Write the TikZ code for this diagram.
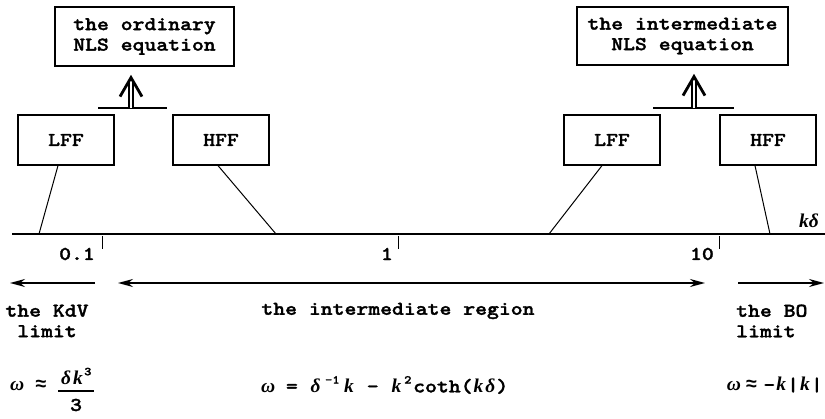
\documentclass[tikz,border=0pt]{standalone}
\usepackage{fontspec}
\newfontfamily\cour{lmmonolt10-bold.otf}[FakeStretch=1.16, FakeBold=1.6]
\newfontfamily\bifont{Liberation Serif}
\newfontfamily\symfont{Liberation Mono}
\usetikzlibrary{arrows.meta}
\newcommand\tfont{\fontsize{19.5}{20.5}\selectfont\cour}
\newcommand\cell[1]{\makebox[0.61em]{#1}}
\newcommand\vk{\cell{\bifont\bfseries\itshape k}}
\newcommand\vd{\cell{\bifont\bfseries\itshape δ}}
\newcommand\vw{\cell{\bifont\bfseries\itshape ω}}
\newcommand\apx{\cell{\symfont\bfseries ≈}}
\newcommand\sps[2]{\makebox[#1]{\raisebox{0.45em}{\fontsize{12}{12}\selectfont #2}}}
\begin{document}
\begin{tikzpicture}[x=1pt,y=-1pt,
  box/.style={draw, line width=1.2pt, inner sep=0pt, align=center, font=\tfont},
  txt/.style={inner sep=0pt, font=\tfont},
  conn/.style={line width=1pt},
  axisline/.style={line width=1.3pt},
  arr/.style={line width=1.5pt},
  barline/.style={line width=1.5pt},
  dbl/.style={line width=1.3pt, double distance=2.6pt},
  head/.style={line width=2.8pt, line join=miter}]
\useasboundingbox (0,0) rectangle (825,419);

% top boxes
\node[box, minimum width=179pt, minimum height=59pt] (nls1) at (144.5,36.5) {the ordinary\\NLS equation};
\node[box, minimum width=211pt, minimum height=58pt] (nls2) at (682.5,36) {the intermediate\\NLS equation};

% LFF / HFF boxes
\node[box, minimum width=96pt, minimum height=50pt] (lff1) at (66,140) {LFF};
\node[box, minimum width=96pt, minimum height=50pt] (hff1) at (221,140) {HFF};
\node[box, minimum width=96pt, minimum height=50pt] (lff2) at (612,140) {LFF};
\node[box, minimum width=96pt, minimum height=50pt] (hff2) at (768,140) {HFF};

% double arrows
\coordinate (b1) at (131,108);
\coordinate (b2) at (694,108);
\draw[barline] ([xshift=-33pt]b1) -- ([xshift=36pt]b1);
\draw[barline] ([xshift=-41pt]b2) -- ([xshift=40pt]b2);
\draw[dbl] (b1) -- ([yshift=-14pt]b1 |- nls1.south);
\draw[dbl] (b2) -- ([yshift=-14pt]b2 |- nls2.south);
\draw[head] ([xshift=-11pt,yshift=-30pt]b1 |- nls1.south) -- ([yshift=-11pt]b1 |- nls1.south) -- ([xshift=11pt,yshift=-30pt]b1 |- nls1.south);
\draw[head] ([xshift=-11pt,yshift=-30pt]b2 |- nls2.south) -- ([yshift=-11pt]b2 |- nls2.south) -- ([xshift=11pt,yshift=-30pt]b2 |- nls2.south);

% axis
\coordinate (axL) at (12,234);
\coordinate (axR) at (825,234);
\draw[axisline] (axL) -- (axR);
\node[txt] (kd) at (809,221) {{\bifont\bfseries\itshape kδ}};

\coordinate (p1) at (39,234);
\coordinate (p2) at (276,234);
\coordinate (p3) at (549,234);
\coordinate (p4) at (770,234);
\draw[conn] ([xshift=-8pt]lff1.south) -- (p1);
\draw[conn] ([xshift=-3pt]hff1.south) -- (p2);
\draw[conn] ([xshift=-10pt]lff2.south) -- (p3);
\draw[conn] ([xshift=-13pt]hff2.south) -- (p4);

% ticks
\coordinate (t1) at (102,236);
\coordinate (t2) at (398,236);
\coordinate (t3) at (719,236);
\draw[conn] (t1) -- ++(0,13);
\draw[conn] (t2) -- ++(0,13);
\draw[conn] (t3) -- ++(0,13);
\node[txt, anchor=east] (l1) at (95,254) {0.1};
\node[txt, anchor=east] (l2) at (393,254) {1};
\node[txt, anchor=east] (l3) at (714,254) {10};

% region arrows
\coordinate (a0) at (10,283);
\coordinate (a1) at (95,283);
\coordinate (a2) at (118,283);
\coordinate (a3) at (705,283);
\coordinate (a4) at (738,283);
\coordinate (a5) at (824,283);
\draw[arr, -{Stealth[length=15pt,width=8pt]}] (a1) -- (a0);
\draw[arr, {Stealth[length=15pt,width=8pt]}-{Stealth[length=15pt,width=8pt]}] (a2) -- (a3);
\draw[arr, -{Stealth[length=15pt,width=8pt]}] (a4) -- (a5);

% region labels
\node[txt, align=center] (kdv) at (47,321) {the KdV\\limit};
\node[txt] (ir) at (398,311) {the intermediate region};
\node[txt, align=left, anchor=west] (bo) at (736,321) {the BO\\limit};

% formulas
\node[txt, anchor=west] (e1) at (11,385) {\vw{} \apx};
\node[txt] (num) at (76,376) {\vd\vk\sps{0.4em}{3}};
\node[txt] (den) at (76,405) {3};
\draw[line width=1.2pt] (58,391) -- (94,391);
\node[txt, anchor=west] (e2) at (262,385) {\vw{} = \vd\sps{1.1em}{-1}\vk{} - \vk\sps{0.55em}{2}coth(\vk\vd)};
\node[txt, anchor=east] (e3) at (823,385) {\vw\hspace{0.3em}\apx\hspace{0.3em}-\vk|\vk|};
\end{tikzpicture}
\end{document}
